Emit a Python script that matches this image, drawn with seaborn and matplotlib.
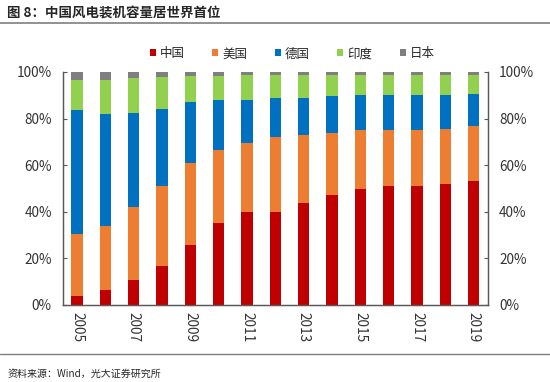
import matplotlib
matplotlib.use("Agg")
import matplotlib.pyplot as plt
import seaborn as sns
import pandas as pd
import numpy as np
from matplotlib.lines import Line2D
from matplotlib.patches import Patch

years = [str(y) for y in range(2005, 2020)]
countries = ["中国", "美国", "德国", "印度", "日本"]
colors = ["#C00000", "#ED7D31", "#0070C0", "#92D050", "#7F7F7F"]

china = [3.9, 6.3, 10.9, 16.7, 25.9, 35.0, 39.9, 39.9, 43.6, 47.0, 49.6, 51.0, 51.0, 51.9, 53.3]
usa = [26.7, 27.6, 31.1, 34.3, 35.1, 31.6, 29.8, 32.1, 29.3, 26.9, 25.5, 24.1, 24.1, 23.7, 23.7]
germany = [53.1, 48.1, 40.6, 32.9, 26.1, 21.4, 18.3, 16.9, 16.0, 16.0, 15.0, 15.0, 15.0, 14.5, 13.7]
india = [13.0, 14.7, 14.7, 13.8, 11.0, 10.1, 10.6, 9.7, 9.7, 9.0, 8.8, 8.8, 8.8, 8.8, 8.2]
japan = [3.3, 3.3, 2.7, 2.3, 1.9, 1.9, 1.4, 1.4, 1.4, 1.1, 1.1, 1.1, 1.1, 1.1, 1.1]

df = pd.DataFrame({"年份": years, "中国": china, "美国": usa, "德国": germany,
                   "印度": india, "日本": japan})

sns.set_style("white")
plt.rcParams["font.family"] = ["Noto Sans CJK SC", "DejaVu Sans"]

fig = plt.figure(figsize=(5.5, 3.82), dpi=100)
ax = fig.add_axes([0.1145, 0.2016, 0.7725, 0.61])

# stacked bars: draw cumulative totals from the top layer down
cum = df[countries].cumsum(axis=1)
for c, col in reversed(list(zip(countries, colors))):
    sns.barplot(x=df["年份"], y=cum[c], color=col, width=0.4, saturation=1,
                ax=ax, edgecolor="none")

ax.set_xlim(-0.5, 14.5)
ax.set_ylim(0, 100)
ax.set_xlabel("")
ax.set_ylabel("")

ax.set_xticks(range(0, 15, 2))
ax.set_xticklabels(years[::2], rotation=-90, fontsize=9.8, color="#333333")
ax.set_xticks(np.arange(-0.5, 15, 2), minor=True)
ax.tick_params(axis="x", which="major", length=0, pad=5)
ax.tick_params(axis="x", which="minor", length=3, direction="in", color="#595959")

yt = [0, 20, 40, 60, 80, 100]
ax.set_yticks(yt)
ax.set_yticklabels([f"{v}%" for v in yt], fontsize=9.8, color="#333333")
ax.tick_params(axis="y", direction="in", length=3, color="#595959", pad=8)

ax2 = ax.twinx()
ax2.set_ylim(0, 100)
ax2.set_yticks(yt)
ax2.set_yticklabels([f"{v}%" for v in yt], fontsize=9.8, color="#333333")
ax2.tick_params(axis="y", direction="in", length=3, color="#595959", pad=8)

for a in (ax, ax2):
    for s in a.spines.values():
        s.set_color("#595959")
        s.set_linewidth(0.9)
    a.spines["top"].set_visible(False)

handles = [Patch(facecolor=col, edgecolor="none") for col in colors]
fig.legend(handles, countries, loc="center", bbox_to_anchor=(0.531, 0.859),
           ncol=5, frameon=False, fontsize=9, handlelength=0.5,
           handleheight=0.5, handletextpad=0.3, columnspacing=2.2)

fig.text(0.013, 0.968, "图 8：中国风电装机容量居世界首位", fontsize=9.7,
         fontweight="bold", va="center", ha="left")
fig.add_artist(Line2D([0, 1], [0.941, 0.941], color="#7F7F7F", lw=1.2))
fig.add_artist(Line2D([0, 1], [0.073, 0.073], color="#7F7F7F", lw=1.0))
fig.text(0.013, 0.022, "资料来源：Wind，光大证券研究所", fontsize=7.2,
         va="center", ha="left")

fig.savefig("out.png", dpi=100)
